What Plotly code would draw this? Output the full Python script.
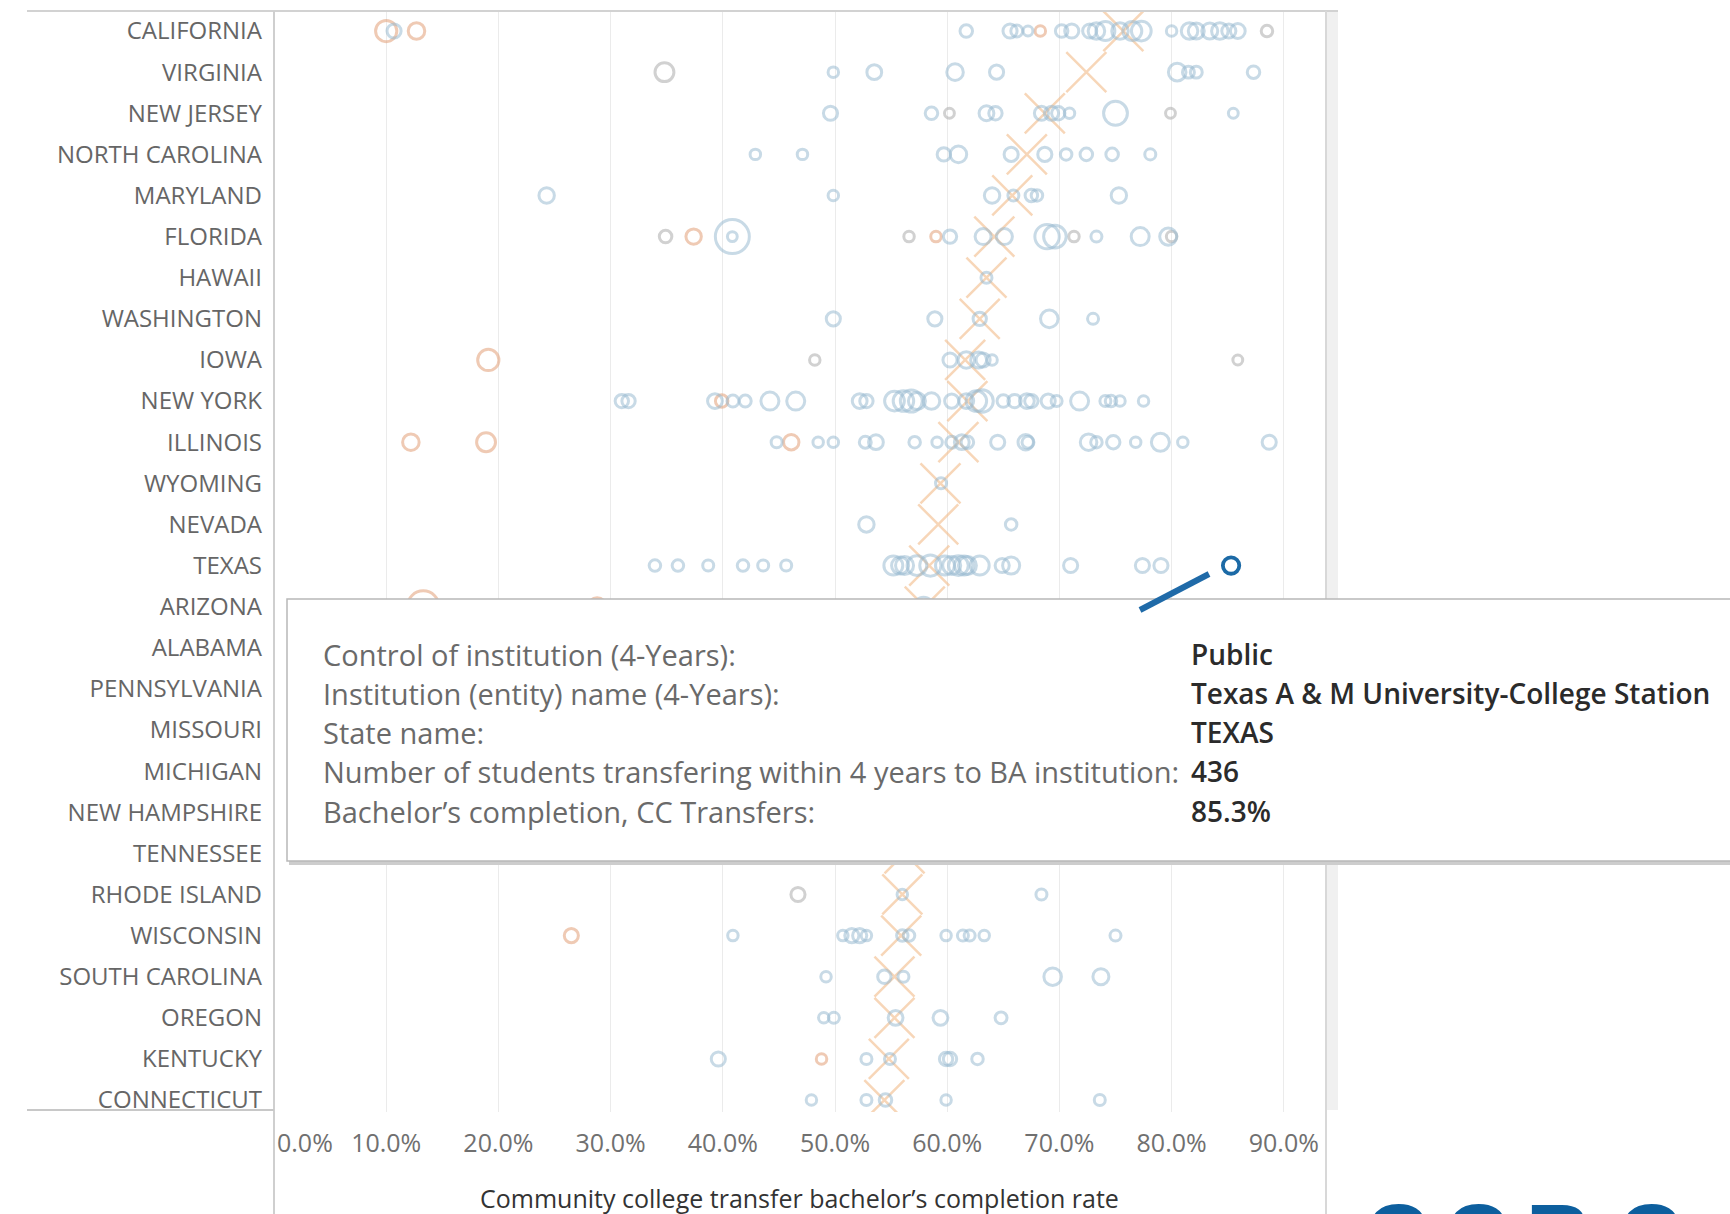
import plotly.graph_objects as go

# ---------------- data ----------------
states = ["CALIFORNIA", "VIRGINIA", "NEW JERSEY", "NORTH CAROLINA", "MARYLAND", "FLORIDA",
          "HAWAII", "WASHINGTON", "IOWA", "NEW YORK", "ILLINOIS", "WYOMING", "NEVADA", "TEXAS",
          "ARIZONA", "ALABAMA", "PENNSYLVANIA", "MISSOURI", "MICHIGAN", "NEW HAMPSHIRE",
          "TENNESSEE", "RHODE ISLAND", "WISCONSIN", "SOUTH CAROLINA", "OREGON", "KENTUCKY",
          "CONNECTICUT"]

# state average completion rate (X marks), %
state_avg = [75.7, 72.4, 68.7, 67.1, 65.8, 64.2, 63.5, 62.9, 61.6, 61.8, 61.0, 59.4, 59.2, 58.4,
             58.0, 57.7, 57.4, 57.1, 56.8, 56.5, 56.2, 56.0, 55.9, 55.3, 55.3, 54.8, 54.4]

# (state, completion rate %, number of transfer students)
public = [
    ("CALIFORNIA", 10.7, 250), ("CALIFORNIA", 61.7, 150), ("CALIFORNIA", 65.6, 250),
    ("CALIFORNIA", 66.2, 120), ("CALIFORNIA", 67.2, 40), ("CALIFORNIA", 70.2, 150),
    ("CALIFORNIA", 71.1, 250), ("CALIFORNIA", 72.7, 250), ("CALIFORNIA", 73.3, 450),
    ("CALIFORNIA", 74.1, 700), ("CALIFORNIA", 75.4, 450), ("CALIFORNIA", 76.5, 700),
    ("CALIFORNIA", 77.3, 800), ("CALIFORNIA", 80.0, 60), ("CALIFORNIA", 81.6, 450),
    ("CALIFORNIA", 82.2, 400), ("CALIFORNIA", 83.4, 400), ("CALIFORNIA", 84.3, 450),
    ("CALIFORNIA", 85.1, 250), ("CALIFORNIA", 85.9, 300),
    ("VIRGINIA", 49.85, 60), ("VIRGINIA", 53.5, 300), ("VIRGINIA", 60.7, 450),
    ("VIRGINIA", 64.4, 250), ("VIRGINIA", 80.5, 550), ("VIRGINIA", 81.5, 120),
    ("VIRGINIA", 82.2, 120), ("VIRGINIA", 87.3, 150),
    ("NEW JERSEY", 49.6, 250), ("NEW JERSEY", 58.6, 150), ("NEW JERSEY", 63.5, 300),
    ("NEW JERSEY", 64.3, 200), ("NEW JERSEY", 68.4, 250), ("NEW JERSEY", 69.3, 250),
    ("NEW JERSEY", 69.9, 200), ("NEW JERSEY", 70.9, 60), ("NEW JERSEY", 75.0, 1400),
    ("NEW JERSEY", 85.5, 40),
    ("NORTH CAROLINA", 42.9, 60), ("NORTH CAROLINA", 47.1, 60), ("NORTH CAROLINA", 59.7, 200),
    ("NORTH CAROLINA", 61.0, 450), ("NORTH CAROLINA", 65.7, 250), ("NORTH CAROLINA", 68.7, 250),
    ("NORTH CAROLINA", 70.6, 100), ("NORTH CAROLINA", 72.4, 150), ("NORTH CAROLINA", 74.7, 150),
    ("NORTH CAROLINA", 78.1, 80),
    ("MARYLAND", 24.3, 350), ("MARYLAND", 49.85, 60), ("MARYLAND", 64.0, 350),
    ("MARYLAND", 65.9, 80), ("MARYLAND", 67.5, 150), ("MARYLAND", 68.0, 100),
    ("MARYLAND", 75.3, 350),
    ("FLORIDA", 40.85, 3600), ("FLORIDA", 40.85, 40), ("FLORIDA", 60.25, 200),
    ("FLORIDA", 63.2, 400), ("FLORIDA", 65.1, 400), ("FLORIDA", 68.9, 1500),
    ("FLORIDA", 69.6, 1200), ("FLORIDA", 73.3, 80), ("FLORIDA", 77.2, 600),
    ("FLORIDA", 79.7, 500),
    ("HAWAII", 63.5, 80),
    ("WASHINGTON", 49.85, 250), ("WASHINGTON", 58.9, 250), ("WASHINGTON", 62.9, 200),
    ("WASHINGTON", 69.1, 550), ("WASHINGTON", 73.0, 80),
    ("IOWA", 60.25, 250), ("IOWA", 61.7, 450), ("IOWA", 62.8, 400), ("IOWA", 63.2, 250),
    ("IOWA", 64.0, 60),
    ("NEW YORK", 31.0, 200), ("NEW YORK", 31.6, 200), ("NEW YORK", 39.3, 300),
    ("NEW YORK", 40.9, 120), ("NEW YORK", 42.0, 120), ("NEW YORK", 44.2, 600),
    ("NEW YORK", 46.5, 600), ("NEW YORK", 52.2, 300), ("NEW YORK", 52.8, 200),
    ("NEW YORK", 55.3, 800), ("NEW YORK", 56.1, 900), ("NEW YORK", 56.8, 1100),
    ("NEW YORK", 57.3, 500), ("NEW YORK", 58.6, 450), ("NEW YORK", 60.4, 250),
    ("NEW YORK", 61.7, 300), ("NEW YORK", 62.6, 900), ("NEW YORK", 63.1, 1200),
    ("NEW YORK", 65.0, 150), ("NEW YORK", 66.0, 200), ("NEW YORK", 67.1, 300),
    ("NEW YORK", 67.5, 200), ("NEW YORK", 69.0, 250), ("NEW YORK", 69.75, 80),
    ("NEW YORK", 71.8, 600), ("NEW YORK", 74.1, 80), ("NEW YORK", 74.6, 100),
    ("NEW YORK", 75.4, 60), ("NEW YORK", 77.5, 60),
    ("ILLINOIS", 44.8, 80), ("ILLINOIS", 48.5, 60), ("ILLINOIS", 49.85, 60),
    ("ILLINOIS", 52.7, 120), ("ILLINOIS", 53.65, 300), ("ILLINOIS", 57.1, 100),
    ("ILLINOIS", 59.1, 60), ("ILLINOIS", 60.4, 120), ("ILLINOIS", 61.3, 300),
    ("ILLINOIS", 61.8, 150), ("ILLINOIS", 64.5, 250), ("ILLINOIS", 67.0, 350),
    ("ILLINOIS", 67.2, 120), ("ILLINOIS", 72.6, 450), ("ILLINOIS", 73.3, 100),
    ("ILLINOIS", 74.8, 200), ("ILLINOIS", 76.8, 60), ("ILLINOIS", 79.0, 600),
    ("ILLINOIS", 81.0, 60), ("ILLINOIS", 88.7, 250),
    ("WYOMING", 59.45, 80),
    ("NEVADA", 52.8, 350), ("NEVADA", 65.7, 100),
    ("TEXAS", 33.95, 100), ("TEXAS", 36.0, 100), ("TEXAS", 38.7, 80), ("TEXAS", 41.8, 100),
    ("TEXAS", 43.6, 80), ("TEXAS", 45.65, 80), ("TEXAS", 55.2, 700), ("TEXAS", 55.8, 500),
    ("TEXAS", 56.2, 600), ("TEXAS", 57.3, 800), ("TEXAS", 58.5, 1000), ("TEXAS", 59.8, 700),
    ("TEXAS", 60.4, 600), ("TEXAS", 61.0, 800), ("TEXAS", 61.5, 700), ("TEXAS", 61.8, 600),
    ("TEXAS", 62.9, 700), ("TEXAS", 64.9, 250), ("TEXAS", 65.7, 500), ("TEXAS", 71.0, 250),
    ("TEXAS", 77.4, 250), ("TEXAS", 79.05, 250),
    ("ARIZONA", 57.9, 700),
    ("RHODE ISLAND", 56.0, 60), ("RHODE ISLAND", 68.4, 80),
    ("WISCONSIN", 40.9, 60), ("WISCONSIN", 50.7, 60), ("WISCONSIN", 51.5, 250),
    ("WISCONSIN", 52.2, 250), ("WISCONSIN", 52.8, 60), ("WISCONSIN", 56.0, 100),
    ("WISCONSIN", 56.6, 100), ("WISCONSIN", 59.9, 60), ("WISCONSIN", 61.4, 80),
    ("WISCONSIN", 62.0, 80), ("WISCONSIN", 63.3, 60), ("WISCONSIN", 75.0, 80),
    ("SOUTH CAROLINA", 49.2, 60), ("SOUTH CAROLINA", 54.4, 200), ("SOUTH CAROLINA", 56.1, 80),
    ("SOUTH CAROLINA", 69.4, 550), ("SOUTH CAROLINA", 73.7, 400),
    ("OREGON", 49.0, 60), ("OREGON", 49.9, 80), ("OREGON", 55.4, 300), ("OREGON", 59.4, 300),
    ("OREGON", 64.8, 120),
    ("KENTUCKY", 39.6, 250), ("KENTUCKY", 52.8, 80), ("KENTUCKY", 54.9, 80),
    ("KENTUCKY", 59.9, 200), ("KENTUCKY", 60.25, 200), ("KENTUCKY", 62.7, 100),
    ("CONNECTICUT", 47.9, 60), ("CONNECTICUT", 52.8, 80), ("CONNECTICUT", 54.5, 150),
    ("CONNECTICUT", 59.9, 60), ("CONNECTICUT", 73.6, 80),
]

private_nonprofit = [
    ("CALIFORNIA", 10.0, 1000), ("CALIFORNIA", 12.7, 450), ("CALIFORNIA", 68.3, 60),
    ("FLORIDA", 37.4, 350), ("FLORIDA", 59.0, 60),
    ("IOWA", 19.1, 1000),
    ("NEW YORK", 39.9, 150),
    ("ILLINOIS", 12.2, 450), ("ILLINOIS", 18.9, 700), ("ILLINOIS", 46.1, 350),
    ("ARIZONA", 13.3, 3000), ("ARIZONA", 28.8, 600),
    ("WISCONSIN", 26.5, 250),
    ("KENTUCKY", 48.8, 60),
]

private_forprofit = [
    ("CALIFORNIA", 88.5, 100),
    ("VIRGINIA", 34.8, 700),
    ("NEW JERSEY", 60.2, 40), ("NEW JERSEY", 79.9, 40),
    ("FLORIDA", 34.9, 150), ("FLORIDA", 56.6, 60), ("FLORIDA", 71.3, 60), ("FLORIDA", 80.0, 60),
    ("IOWA", 48.2, 60), ("IOWA", 85.9, 40),
    ("RHODE ISLAND", 46.7, 250),
]

highlight = {"state": "TEXAS", "rate": 85.3, "students": 436,
             "name": "Texas A & M University-College Station", "control": "Public"}

x_ticks = [10, 20, 30, 40, 50, 60, 70, 80, 90]
x_ticklabels = ["10.0%", "20.0%", "30.0%", "40.0%", "50.0%", "60.0%", "70.0%", "80.0%", "90.0%"]
zero_label = "0.0%"
x_title = "Community college transfer bachelor\u2019s completion rate"

tooltip_labels = ["Control of institution (4-Years):", "Institution (entity) name (4-Years):",
                  "State name:", "Number of students transfering within 4 years to BA institution:",
                  "Bachelor\u2019s completion, CC Transfers:"]
tooltip_values = [highlight["control"], highlight["name"], highlight["state"],
                  str(highlight["students"]), f"{highlight['rate']:.1f}%"]

# ---------------- geometry helpers ----------------
W, H = 1730, 1214
PL, PR, PT, PB = 274, 1325, 11, 1112


def px(xp):
    return (xp - PL) / (PR - PL)


def py(yp):
    return (PB - yp) / (PB - PT)


def msize(n):
    return 7 + 0.45 * n ** 0.5


idx = {s: i for i, s in enumerate(states)}
FONT = "Open Sans"

fig = go.Figure()

# average X marks
fig.add_trace(go.Scatter(
    x=state_avg, y=list(range(len(states))), mode="markers",
    marker=dict(symbol="x-thin-open", size=40, color="rgba(242,186,136,0.6)",
                line=dict(width=2.5, color="rgba(242,186,136,0.6)")),
    hoverinfo="skip", showlegend=False))


def add_group(data, color):
    fig.add_trace(go.Scatter(
        x=[d[1] for d in data], y=[idx[d[0]] for d in data], mode="markers",
        marker=dict(symbol="circle-open", size=[msize(d[2]) for d in data], color=color,
                    line=dict(width=3, color=color)),
        showlegend=False, hoverinfo="skip"))


add_group(private_forprofit, "rgba(178,178,178,0.85)")
add_group(private_nonprofit, "rgba(226,160,122,0.8)")
add_group(public, "rgba(150,185,208,0.75)")

fig.add_trace(go.Scatter(
    x=[highlight["rate"]], y=[idx[highlight["state"]]], mode="markers",
    marker=dict(symbol="circle-open", size=msize(highlight["students"]), color="#1c6aa6",
                line=dict(width=3.8, color="#1c6aa6")),
    showlegend=False, hoverinfo="skip"))

shapes = []
line_gray = "#d2d2d2"
# top border
shapes.append(dict(type="line", xref="paper", yref="paper", x0=px(27), x1=px(1338),
                   y0=py(11), y1=py(11), line=dict(color=line_gray, width=2), layer="above"))
# left axis line
shapes.append(dict(type="line", xref="paper", yref="paper", x0=px(274), x1=px(274),
                   y0=py(11), y1=py(1214), line=dict(color="#cfcfcf", width=2), layer="above"))
# right border line
shapes.append(dict(type="line", xref="paper", yref="paper", x0=px(1326), x1=px(1326),
                   y0=py(11), y1=py(1214), line=dict(color="#d8d8d8", width=2), layer="above"))
# scrollbar strip
shapes.append(dict(type="rect", xref="paper", yref="paper", x0=px(1327), x1=px(1338),
                   y0=py(1110), y1=py(12), fillcolor="#f0f0f0", line=dict(width=0), layer="above"))
# bottom line under labels
shapes.append(dict(type="line", xref="paper", yref="paper", x0=px(27), x1=px(274),
                   y0=py(1110), y1=py(1110), line=dict(color="#c8c8c8", width=2), layer="above"))
# tooltip shadow + box
shapes.append(dict(type="rect", xref="paper", yref="paper", x0=px(289), x1=px(1800),
                   y0=py(865), y1=py(602), fillcolor="#cdcdcd", line=dict(width=0), layer="above"))
shapes.append(dict(type="rect", xref="paper", yref="paper", x0=px(287), x1=px(1800),
                   y0=py(861), y1=py(599), fillcolor="white",
                   line=dict(color="#b8b8b8", width=1.5), layer="above"))
# pointer line
shapes.append(dict(type="line", xref="paper", yref="paper", x0=px(1140), x1=px(1209),
                   y0=py(610), y1=py(574), line=dict(color="#1f6aa8", width=6), layer="above"))

annotations = []
# 0.0% label (left aligned at axis)
annotations.append(dict(x=px(275), y=py(1142), xref="paper", yref="paper", text=zero_label,
                        showarrow=False, xanchor="left", yanchor="middle",
                        font=dict(family=FONT, size=25, color="#707070")))
# axis title
annotations.append(dict(x=px(799), y=py(1198), xref="paper", yref="paper", text=x_title,
                        showarrow=False, xanchor="center", yanchor="middle",
                        font=dict(family=FONT, size=25, color="#333333")))
# tooltip text
row_y = [654, 693, 732, 771, 811]
for lab, val, yy in zip(tooltip_labels, tooltip_values, row_y):
    annotations.append(dict(x=px(321), y=py(yy), xref="paper", yref="paper", text=lab,
                            showarrow=False, xanchor="left", yanchor="middle",
                            font=dict(family=FONT, size=29, color="#6a6a6a")))
    annotations.append(dict(x=px(1189), y=py(yy), xref="paper", yref="paper", text=val,
                            showarrow=False, xanchor="left", yanchor="middle",
                            font=dict(family=FONT, size=28, color="#2b2b2b", weight=600)))
# logo (cropped at bottom edge)
for ch, cx in zip("CCRC", [1397, 1477, 1558, 1650]):
    annotations.append(dict(x=px(cx), y=py(1183), xref="paper", yref="paper", text=ch,
                            showarrow=False, xanchor="center", yanchor="top",
                            font=dict(family="Liberation Sans", size=88, color="#0d5f9e",
                                      weight="bold")))

fig.update_layout(
    width=W, height=H, paper_bgcolor="white", plot_bgcolor="white",
    margin=dict(l=PL, r=W - PR, t=PT, b=H - PB, pad=0),
    xaxis=dict(range=[0, (PR - PL) / 11.22], tickvals=x_ticks, ticktext=x_ticklabels,
               showgrid=True, gridcolor="#ebebeb", gridwidth=1, zeroline=False, showline=False,
               ticks="", ticklabelstandoff=14,
               tickfont=dict(family=FONT, size=25, color="#707070")),
    yaxis=dict(range=[26.29, -0.487], tickvals=list(range(len(states))), ticktext=states,
               showgrid=False, zeroline=False, showline=False, ticks="", ticklabelstandoff=11,
               tickfont=dict(family=FONT, size=24, color="#666666")),
    shapes=shapes, annotations=annotations,
)

fig.write_html("out.html", config={"displayModeBar": False},
               post_script="document.body.style.margin='0';")
